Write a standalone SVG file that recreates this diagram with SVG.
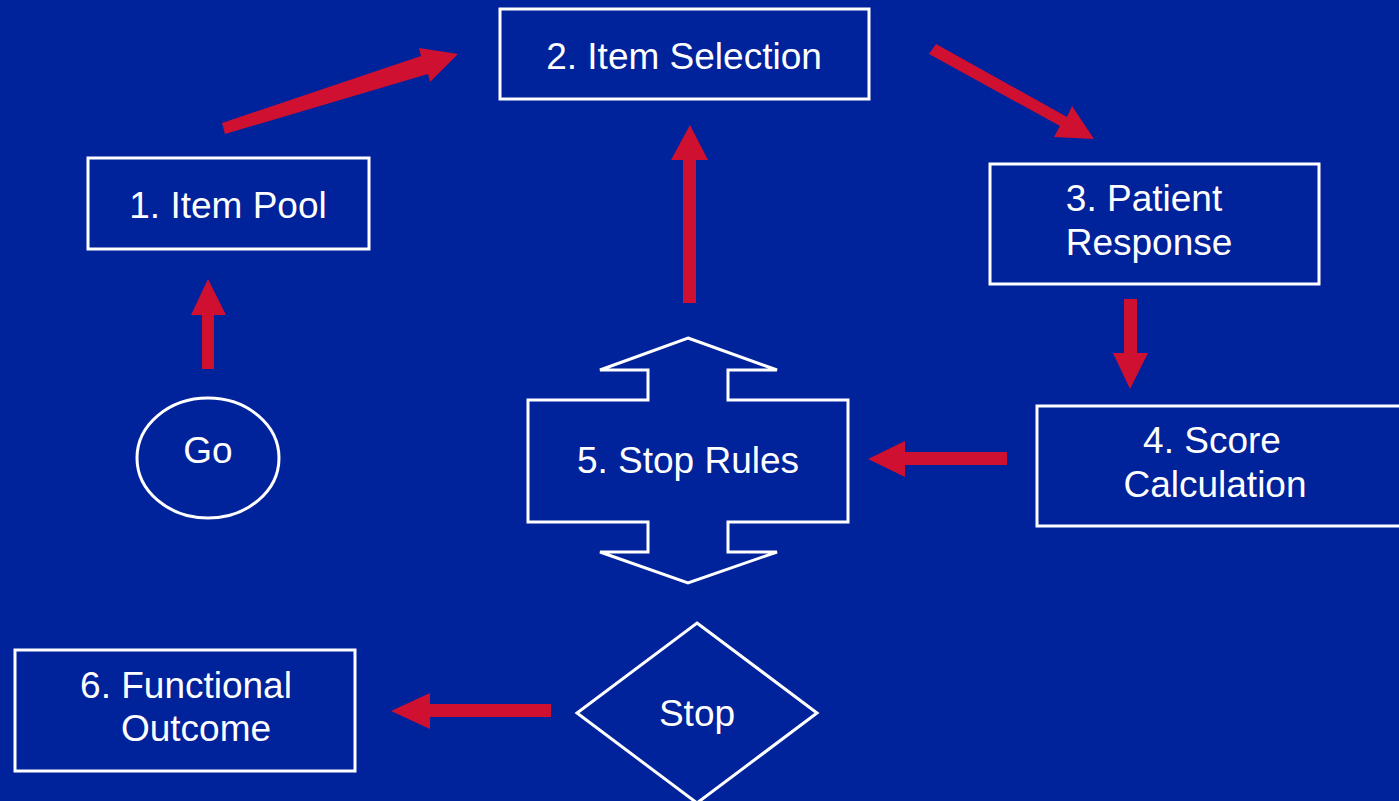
<svg xmlns="http://www.w3.org/2000/svg" width="1399" height="801" viewBox="0 0 1399 801">
<style>
.box{fill:none;stroke:#fff;stroke-width:3}
.lbl{fill:#fff;font-family:"Liberation Sans",Arial,sans-serif;font-size:37px;text-anchor:middle}
.arr{fill:#D01030}
</style>
<rect width="1399" height="801" fill="#00229A"/>
<g id="connectors">
<polygon class="arr" points="222,123 421,56 419,48 458,54 430,82 428,74 225,134"/>
<polygon class="arr" points="936,44 1067,117 1072,106 1094,139 1054,137 1060,126 929,54"/>
<polygon class="arr" points="1124,299 1137,299 1137,353 1148,353 1130,389 1113,353 1124,353"/>
<polygon class="arr" points="202,369 214,369 214,315 226,315 208,279 191,315 202,315"/>
<polygon class="arr" points="683,303 696,303 696,160 708,160 690,125 671,160 683,160"/>
<polygon class="arr" points="1007,452 1007,465 905,465 905,477 868,459 905,441 905,452"/>
<polygon class="arr" points="551,704 551,717 430,717 430,729 391,711 430,693 430,704"/>
</g>
<g id="n-selection"><rect class="box" x="500" y="9" width="369" height="90"/><text class="lbl" x="684" y="69">2. Item Selection</text></g>
<g id="n-pool"><rect class="box" x="88" y="158" width="281" height="91"/><text class="lbl" x="228" y="218">1. Item Pool</text></g>
<g id="n-response"><rect class="box" x="990" y="164" width="329" height="120"/><text class="lbl" x="1144" y="211">3. Patient</text><text class="lbl" x="1149" y="255">Response</text></g>
<g id="n-score"><rect class="box" x="1037" y="406" width="370" height="120"/><text class="lbl" x="1212" y="453">4. Score</text><text class="lbl" x="1215" y="497">Calculation</text></g>
<g id="n-stoprules"><polygon class="box" points="688,338 777,370 728,370 728,400 848,400 848,522 728,522 728,552 777,552 688,583 600,552 648,552 648,522 528,522 528,400 648,400 648,370 600,370"/><text class="lbl" x="688" y="473">5. Stop Rules</text></g>
<g id="n-go"><ellipse class="box" cx="208" cy="458" rx="71" ry="60"/><text class="lbl" x="208" y="463">Go</text></g>
<g id="n-stop"><polygon class="box" points="697,623 817,713 697,803 577,713"/><text class="lbl" x="697" y="726">Stop</text></g>
<g id="n-outcome"><rect class="box" x="15" y="650" width="340" height="121"/><text class="lbl" x="186" y="698">6. Functional</text><text class="lbl" x="196" y="741">Outcome</text></g>
</svg>
